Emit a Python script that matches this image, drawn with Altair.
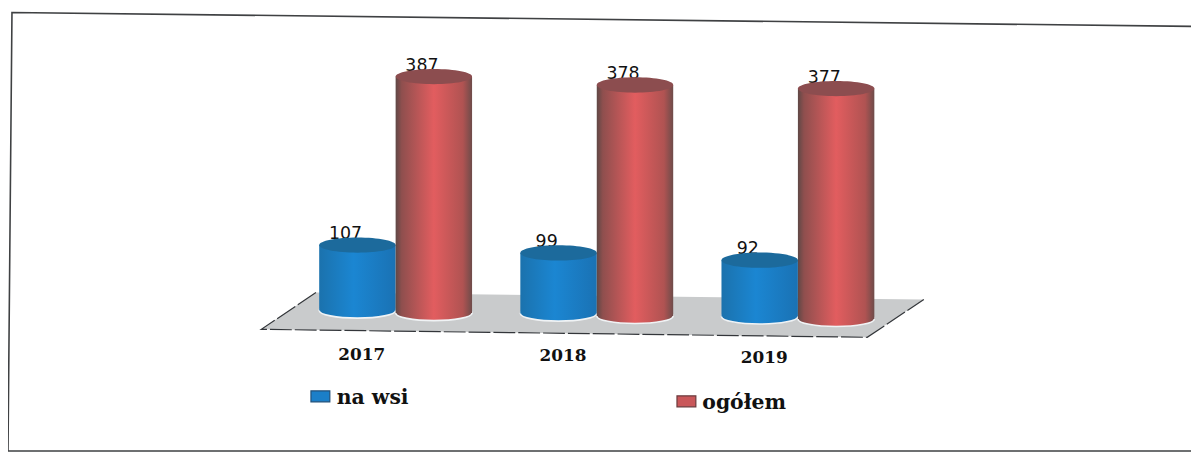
import altair as alt
import pandas as pd

years = ["2017", "2018", "2019"]
series = ["na wsi", "ogółem"]
na_wsi = [107, 99, 92]
ogolem = [387, 378, 377]

rows = [{"rok": y, "seria": series[0], "v": v} for y, v in zip(years, na_wsi)]
rows += [{"rok": y, "seria": series[1], "v": v} for y, v in zip(years, ogolem)]
df = pd.DataFrame(rows)

W, H = 1191, 445
K = 0.615  # px per unit
Y0 = 303  # plot y of the zero line
one = alt.Data(values=[{}])
ELLIPSE = "M-1,0A1,0.2 0 1,1 1,0A1,0.2 0 1,1 -1,0Z"
CYL = 77 ** 2

x_enc = alt.X("rok:N", axis=None, sort=years,
              scale=alt.Scale(domain=years, range=[289, 896.5], paddingInner=0.24, paddingOuter=0.12))
xo_enc = alt.XOffset("seria:N", sort=series, scale=alt.Scale(domain=series))
y_scale = alt.Scale(domain=[(Y0 - H) / K, Y0 / K], nice=False, zero=False)

base = alt.Chart(df).transform_calculate(
    yi="indexof(['2017','2018','2019'], datum.rok)",
    si="datum.seria == 'na wsi' ? 0 : 1",
).transform_calculate(
    tilt=f"(datum.yi * 3 + datum.si * 2.5) / {K}",
).transform_calculate(
    top="datum.v - datum.tilt",
    bottom="-datum.tilt",
)


def grad(stops):
    return alt.Gradient(gradient="linear", x1=0, x2=1, y1=0, y2=0,
                        stops=[alt.GradientStop(offset=o, color=c) for o, c in stops])


def cylinder(name, stops, topc):
    b = base.transform_filter(alt.datum.seria == name)
    g = grad(stops)
    bottom = b.mark_point(shape=ELLIPSE, filled=True, size=CYL, opacity=1, fill=g,
                          stroke="#f0f3f5", strokeWidth=1.6).encode(
        x=x_enc, xOffset=xo_enc, y=alt.Y("bottom:Q", scale=y_scale, axis=None))
    bar = b.mark_bar(fill=g).encode(
        x=x_enc, xOffset=xo_enc, y=alt.Y("top:Q", scale=y_scale, axis=None), y2="bottom:Q")
    top = b.mark_point(shape=ELLIPSE, filled=True, size=CYL, opacity=1, fill=topc, strokeWidth=0).encode(
        x=x_enc, xOffset=xo_enc, y=alt.Y("top:Q", scale=y_scale, axis=None))
    return bottom + bar + top


blue = cylinder("na wsi", [(0, "#1b72ad"), (0.45, "#1b86d2"), (1, "#1a72b4")], "#1c6a9c")
red = cylinder("ogółem", [(0, "#5f4846"), (0.08, "#8f4f4e"), (0.5, "#e25d5f"), (0.88, "#b05352"), (1, "#6e4c4a")], "#8c4d4f")

floor = alt.Chart(one).mark_point(
    shape="M255,322L310,285L922,292L865,330Z", filled=True, size=4, opacity=1,
    fill="#c9cbcc", strokeWidth=0
).encode(x=alt.value(0), y=alt.value(0))

floor_edges = alt.Chart(one).mark_point(
    shape="M310,285L255,322L865,330L922,292", filled=False, size=4, opacity=1,
    stroke="#33363a", strokeWidth=1.2, strokeDash=[22, 3], fill=None
).encode(x=alt.value(0), y=alt.value(0))

frame = alt.Chart(one).mark_point(
    shape="M1191,17L4,3L0,444.5L1191,444.5", filled=False, size=4, opacity=1,
    stroke="#3f4143", strokeWidth=1.6, fill=None
).encode(x=alt.value(0), y=alt.value(0))

labels = base.mark_text(font="DejaVu Sans", fontSize=17.5, color="#111111", dx=-12, dy=-11).encode(
    x=x_enc, xOffset=xo_enc, y=alt.Y("top:Q", scale=y_scale, axis=None), text="v:Q")

year_df = pd.DataFrame({"rok": years})
year_labels = alt.Chart(year_df).transform_calculate(
    p=f"-(44.5 + 1.5 * indexof(['2017','2018','2019'], datum.rok)) / {K}"
).mark_text(font="DejaVu Serif", fontSize=17, fontWeight="bold", color="#111111", dx=-34).encode(
    x=x_enc, y=alt.Y("p:Q", scale=y_scale, axis=None), text="rok:N")


def legend(name, fill, edge, sx, sy, tx, ty):
    d = alt.Data(values=[{"seria": name}])
    sq = alt.Chart(d).mark_point(shape="M-1,-0.58H1V0.58H-1Z", filled=True, size=19 ** 2, opacity=1,
                                 fill=fill, stroke=edge, strokeWidth=1.2).encode(
        x=alt.value(sx), y=alt.value(sy))
    tx_ = alt.Chart(d).mark_text(font="DejaVu Serif", fontSize=20.5, fontWeight="bold", align="left",
                                 color="#111111").encode(
        x=alt.value(tx), y=alt.value(ty), text="seria:N")
    return sq + tx_


leg1 = legend(series[0], "#1b7fc8", "#20507a", 314.5, 389.5, 331, 391)
leg2 = legend(series[1], "#c9575a", "#6a3a3c", 683, 394.5, 699, 396)

chart = alt.layer(floor, floor_edges, frame, labels, year_labels, blue, red, leg1, leg2).properties(
    width=W, height=H, padding=0, autosize=alt.AutoSizeParams(type="none"), background="#ffffff"
).configure_view(stroke=None)

chart.save("out.html", embed_options={"renderer": "svg", "actions": False})
